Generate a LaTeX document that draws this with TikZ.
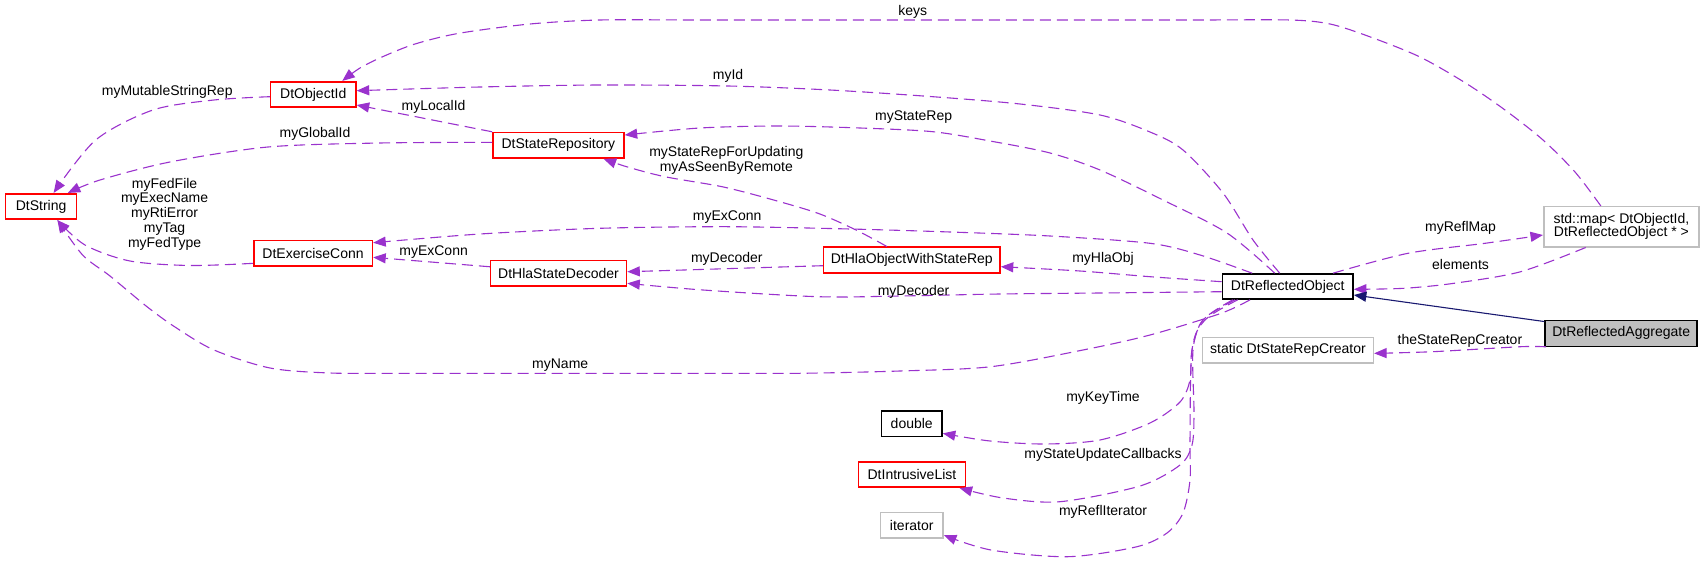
\documentclass[tikz,border=0pt]{standalone}
\usepackage{fontspec}
\setmainfont{Liberation Sans}
\usetikzlibrary{arrows.meta,calc}
\definecolor{edgecol}{HTML}{9A32CD}
\definecolor{grayb}{HTML}{BFBFBF}
\definecolor{navyc}{HTML}{191970}
\definecolor{redb}{HTML}{FF0000}
\newcommand\dfont{\fontsize{14bp}{14.8bp}\selectfont}
\begin{document}
\begin{tikzpicture}[x=1bp,y=-1bp,
  cls/.style={rectangle, draw, line width=1.6bp, inner sep=0pt, minimum height=25.5bp, font=\dfont, fill=white},
  redcls/.style={cls, draw=redb},
  blkcls/.style={cls, draw=black},
  graycls/.style={cls, draw=grayb},
  lbl/.style={font=\dfont, inner sep=0pt, align=center},
  dep/.style={draw=edgecol, line width=1.1bp, dash pattern=on 11bp off 6bp, -{Triangle[length=12.5bp,width=10bp]}},
  inh/.style={draw=navyc, line width=1.1bp, -{Triangle[length=12.5bp,width=10bp]}}
]
\useasboundingbox (0,0) rectangle (1704,563);

% nodes
\node[redcls, minimum width=85.3bp] (objid) at (313.25,94.5) {DtObjectId};
\node[redcls, minimum width=131bp] (staterep) at (558.4,145.35) {DtStateRepository};
\node[redcls, minimum width=70.8bp] (dtstring) at (41.1,206.5) {DtString};
\node[redcls, minimum width=118.7bp] (exconn) at (313.05,253.35) {DtExerciseConn};
\node[redcls, minimum width=135.9bp] (decoder) at (558.55,273.35) {DtHlaStateDecoder};
\node[redcls, minimum width=176.4bp] (hlaobj) at (911.8,260) {DtHlaObjectWithStateRep};
\node[blkcls, minimum width=130.5bp, minimum height=25bp] (reflobj) at (1287.75,286.5) {DtReflectedObject};
\node[graycls, minimum width=155.2bp, minimum height=40bp, align=center, font=\fontsize{14bp}{13.3bp}\selectfont] (stdmap) at (1621.4,226.7) {std::map< DtObjectId,\\DtReflectedObject * >};
\node[blkcls, fill=grayb, minimum width=152bp, minimum height=26bp] (aggr) at (1621.2,333.35) {DtReflectedAggregate};
\node[graycls, minimum width=170.7bp] (creator) at (1287.95,350.35) {static DtStateRepCreator};
\node[blkcls, minimum width=60.5bp] (dbl) at (911.75,423.85) {double};
\node[redcls, minimum width=106.7bp] (intrusive) at (911.95,474.5) {DtIntrusiveList};
\node[graycls, minimum width=62.7bp] (iter) at (911.75,525.15) {iterator};

% edges
\draw[dep] plot[smooth] coordinates {($(objid.west)+(0,2.2)$) (214,100) (153,110) (95.7,140) ($(dtstring.north)+(12.5,0)$)};
\draw[dep] (staterep.north west) -- ($(objid.east)+(0,10.5)$);
\draw[dep] plot[smooth] coordinates {($(staterep.west)+(0,-3)$) (380,143) (268,147) (170,162) (100,180) ($(dtstring.north east)+(-9.5,0)$)};
\draw[dep] plot[smooth] coordinates {($(exconn.west)+(0,10)$) (190,265.5) (130,261) (85,245) ($(dtstring.south)+(16.3,0)$)};
\draw[dep] ($(decoder.west)+(0,-6.6)$) -- ($(exconn.east)+(0,4)$);
\draw[dep] plot[smooth] coordinates {($(reflobj.north west)+(30.5,0)$) (1200,255) (1150,243.3) (1050,236) (950,232) (850,229) (727,226.7) (600,228.3) (480,234) ($(exconn.east)+(0,-10.6)$)};
\draw[dep] plot[smooth] coordinates {($(reflobj.north)+(-8,0)$) (1253,240) (1223,193) (1183,150) (1150,132) (1100,115) (1020,104) (932.7,96.7) (830,90) (728,86) (600,85) (480,87) ($(objid.east)+(0,-3.8)$)};
\draw[dep] plot[smooth] coordinates {($(reflobj.north)+(-13,0)$) (1227,233) (1163,200) (1100,170) (1050,153) (990,141) (932.7,131.7) (860,128) (779.6,126) (700,128) ($(staterep.east)+(0,-10.3)$)};
\draw[dep] plot[smooth] coordinates {($(hlaobj.north)+(-25,0)$) (856,230) (818,213.3) (770,199) (722,186.7) (664.8,176.7) (626.5,166.7) ($(staterep.south)+(45.2,0)$)};
\draw[dep] ($(hlaobj.west)+(0,5.7)$) -- ($(decoder.east)+(0,-1.6)$);
\draw[dep] plot[smooth] coordinates {($(reflobj.west)+(0,5.2)$) (1100,293) (1000,294) (900,296) (818,296.7) (703,290) ($(decoder.east)+(0,10)$)};
\draw[dep] plot[smooth] coordinates {($(reflobj.west)+(0,-4.8)$) (1150,276.7) (1080,271) ($(hlaobj.east)+(0,6.7)$)};
\draw[dep] plot[smooth] coordinates {($(reflobj.south)+(-37.75,0)$) (1221,313.3) (1150,335) (1083,350) (991,366.7) (900,371) (800,373.3) (700,373.3) (600,373.3) (500,373.3) (400,373.3) (330,373) (270,368) (214,350) (175,327) (147,306.7) (110,276) (82.6,255) ($(dtstring.south)+(16.3,0)$)};
\draw[dep] plot[smooth] coordinates {($(reflobj.north)+(45.25,0)$) (1408,253.3) (1485,243.3) ($(stdmap.west)+(0,8.3)$)};
\draw[dep] plot[smooth] coordinates {($(stdmap.south)+(-35.7,0)$) (1520.7,271.7) (1454,283.3) (1404,288.3) ($(reflobj.east)+(0,2.8)$)};
\draw[dep] plot[smooth] coordinates {($(stdmap.north)+(-20.6,0)$) (1575,172) (1543,140) (1505,110) (1466,83.3) (1420,57) (1369.6,36.7) (1330,24) (1290,20) (1200,20) (1100,20) (1000,20) (900,20) (800,20) (700,20) (600,20) (530,24) (459,33.3) (415,44) (382.7,56.7) (360,68) ($(objid.north)+(29,0)$)};
\draw[inh] ($(aggr.north west)+(0,2)$) -- ($(reflobj.east)+(0,8.5)$);
\draw[dep] plot[smooth] coordinates {($(aggr.south west)+(1.6,-0.3)$) (1521,346.7) (1432.6,351.7) ($(creator.east)+(0,3)$)};
\draw[dep] plot[smooth] coordinates {($(reflobj.south)+(-52.75,0)$) (1203,320) (1192,350) (1190,380) (1180,402) (1150,423) (1100,440) (1045,444) (990,441) ($(dbl.east)+(0,9.5)$)};
\draw[dep] plot[smooth] coordinates {($(reflobj.south)+(-55,0)$) (1203,320) (1193,350) (1194,413) (1192,445) (1180,465) (1140,486) (1060,501.7) (1003,498) ($(intrusive.south east)+(-6.5,0)$)};
\draw[dep] plot[smooth] coordinates {($(reflobj.south)+(-50,0)$) (1205,320) (1192,350) (1190,440) (1190,480) (1183,513) (1167,533) (1137,546.7) (1068,556.7) (991,550) ($(iter.east)+(0,10)$)};

% labels
\node[lbl] (lmsr) at (167.2,91.7) {myMutableStringRep};
\node[lbl] (llid) at (433.6,106.7) {myLocalId};
\node[lbl] (lgid) at (315,134.3) {myGlobalId};
\node[lbl] (lfed) at (164.6,214) {myFedFile\\myExecName\\myRtiError\\myTag\\myFedType};
\node[lbl] (lexc1) at (433.6,251.7) {myExConn};
\node[lbl] (lkeys) at (912.8,11.7) {keys};
\node[lbl] (lmyid) at (728,76) {myId};
\node[lbl] (lsrep) at (913.6,116.7) {myStateRep};
\node[lbl] (lsrfu) at (726.3,160) {myStateRepForUpdating\\myAsSeenByRemote};
\node[lbl] (lexc2) at (727.2,216.7) {myExConn};
\node[lbl] (ldec1) at (726.8,258.7) {myDecoder};
\node[lbl] (lhla) at (1103,259.3) {myHlaObj};
\node[lbl] (ldec2) at (913.6,292) {myDecoder};
\node[lbl] (lname) at (560.2,365) {myName};
\node[lbl] (lrmap) at (1460.5,227.7) {myReflMap};
\node[lbl] (lelem) at (1460.5,264.3) {elements};
\node[lbl] (lcrea) at (1459.9,340.7) {theStateRepCreator};
\node[lbl] (lkt) at (1103,398.3) {myKeyTime};
\node[lbl] (lsuc) at (1103,455.3) {myStateUpdateCallbacks};
\node[lbl] (lrit) at (1103,512.3) {myReflIterator};
\end{tikzpicture}
\end{document}
